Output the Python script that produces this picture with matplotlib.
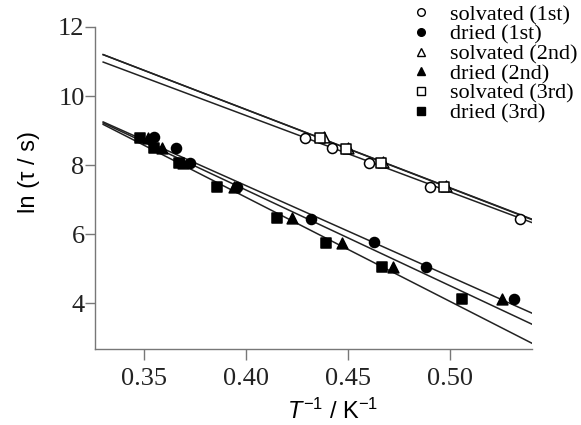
import numpy as np
import matplotlib
matplotlib.use("Agg")
import matplotlib.pyplot as plt

plt.rcParams['mathtext.fontset'] = 'custom'
plt.rcParams['mathtext.rm'] = 'Liberation Sans'
plt.rcParams['mathtext.it'] = 'Liberation Sans:italic'

# inverse temperature (1/K) and ln(tau/s) for each run
solv1_x = [0.429, 0.442, 0.460, 0.490, 0.534]
solv1_y = [8.78, 8.49, 8.06, 7.36, 6.43]
dried1_x = [0.355, 0.3655, 0.3725, 0.3955, 0.432, 0.4625, 0.488, 0.531]
dried1_y = [8.80, 8.50, 8.06, 7.37, 6.45, 5.77, 5.04, 4.12]
solv2_x = [0.438, 0.450, 0.467, 0.498]
solv2_y = [8.80, 8.48, 8.08, 7.38]
dried2_x = [0.352, 0.359, 0.369, 0.394, 0.4225, 0.447, 0.4722, 0.5255]
dried2_y = [8.78, 8.50, 8.06, 7.37, 6.46, 5.74, 5.04, 4.12]
solv3_x = [0.436, 0.449, 0.466, 0.497]
solv3_y = [8.78, 8.46, 8.05, 7.36]
dried3_x = [0.348, 0.355, 0.367, 0.386, 0.415, 0.439, 0.4665, 0.506]
dried3_y = [8.78, 8.50, 8.06, 7.36, 6.46, 5.74, 5.04, 4.12]

labels = ['solvated (1st)', 'dried (1st)', 'solvated (2nd)',
          'dried (2nd)', 'solvated (3rd)', 'dried (3rd)']
# Arrhenius fits: ln(tau) = a + b / T
fit_a = [18.71, 17.955, 18.69, 18.38, 18.29, 19.14]
fit_b = [-22.76, -26.38, -22.70, -27.76, -22.14, -30.19]

fit_x = np.array([0.330, 0.540])

fig = plt.figure(figsize=(5.81, 4.25), dpi=100)
ax = fig.add_axes([0.1635, 0.1788, 0.752, 0.7577])

series = [(solv1_x, solv1_y, 'o', 'white'), (dried1_x, dried1_y, 'o', 'black'),
          (solv2_x, solv2_y, '^', 'white'), (dried2_x, dried2_y, '^', 'black'),
          (solv3_x, solv3_y, 's', 'white'), (dried3_x, dried3_y, 's', 'black')]

for (xs, ys, mk, fc), a, b in zip(series, fit_a, fit_b):
    ax.plot(fit_x, a + b * fit_x, color='#222222', lw=1.1, zorder=1)

for (xs, ys, mk, fc), lab in zip(series, labels):
    ax.scatter(xs, ys, marker=mk, s=52 if mk != '^' else 60, facecolor=fc,
               edgecolor='black', linewidths=1.1, zorder=3, label=lab)

ax.set_xlim(0.326, 0.540)
ax.set_ylim(2.67, 12)
ax.set_xticks([0.35, 0.40, 0.45, 0.50])
ax.set_xticklabels(['0.35', '0.40', '0.45', '0.50'])
ax.set_yticks([4, 6, 8, 10, 12])

for sp in ['top', 'right']:
    ax.spines[sp].set_visible(False)
for sp in ['left', 'bottom']:
    ax.spines[sp].set_color('#777777')
    ax.spines[sp].set_linewidth(1.0)

ax.tick_params(axis='both', direction='out', color='#777777', width=1.0)
ax.tick_params(axis='y', length=7, pad=0.5)
ax.tick_params(axis='x', length=8, pad=6)
for t in ax.get_xticklabels() + ax.get_yticklabels():
    t.set_family('Liberation Serif')
    t.set_fontsize(19)
    t.set_color('#222222')

ax.set_ylabel('ln (τ / s)', family='Liberation Sans', fontsize=17)
ax.yaxis.set_label_coords(-0.125, 0.55)
ax.set_xlabel(r'$T^{-1}$ / K$^{-1}$', family='Liberation Sans', fontsize=17)
ax.xaxis.set_label_coords(0.545, -0.155)

# small markers in the key
leg_handles = [plt.Line2D([], [], ls='none', marker=mk, ms=5.5, mfc=fc, mec='black', mew=1.0)
               for (xs, ys, mk, fc) in series]
fig.legend(leg_handles, labels, loc='upper left', bbox_to_anchor=(0.705, 1.0),
           frameon=False, prop={'family': 'Liberation Serif', 'size': 16},
           handlelength=0.6, handletextpad=1.0, labelspacing=-0.04,
           borderaxespad=0.0, borderpad=0.2)

fig.savefig('out.png', dpi=100)
